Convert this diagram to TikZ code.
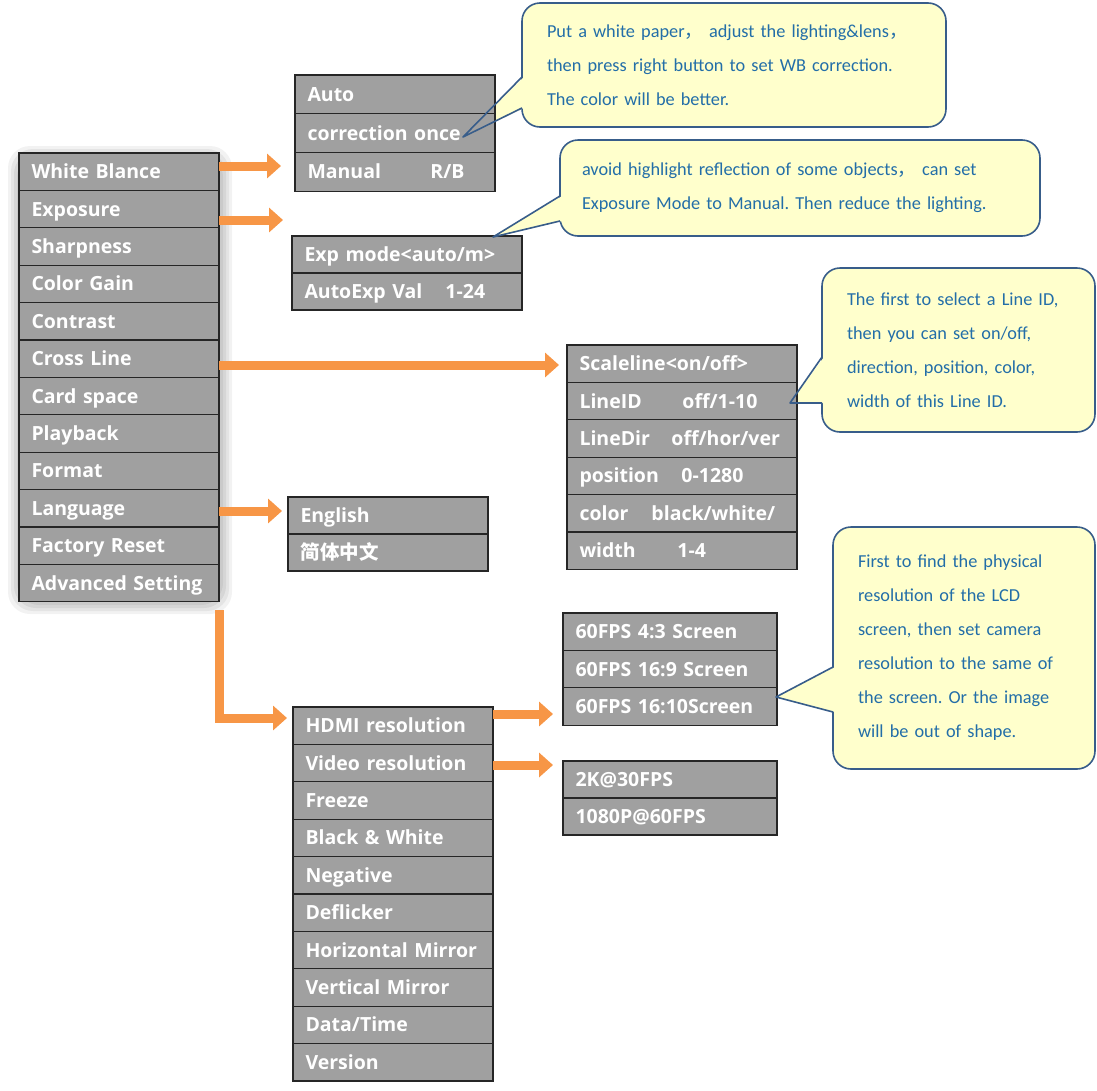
\documentclass[tikz,border=0pt]{standalone}
\usepackage{fontspec}
\setmainfont{Open Sans}
\newfontfamily\menufont{Open Sans}
\newfontfamily\notefont{Carlito}
\newfontfamily\cjk{Noto Sans CJK SC}
\usetikzlibrary{arrows.meta,positioning}
\definecolor{menugray}{RGB}{160,160,160}
\definecolor{arroworange}{RGB}{247,150,70}
\definecolor{notefill}{RGB}{255,255,204}
\definecolor{noteline}{RGB}{56,93,138}
\definecolor{notetext}{RGB}{35,110,168}
\frenchspacing
\begin{document}
\begin{tikzpicture}
[
x=1pt, y=-1pt,
menubox/.style 2 args={draw=black!85, line width=1.2pt, fill=menugray, text=white,
  font=\menufont\bfseries\fontsize{19.5}{22}\selectfont, anchor=north west,
  inner xsep=12.5pt, inner ysep=0pt, outer sep=0pt, align=left,
  text height=16pt, text depth=2pt,
  text width=#1, minimum height=#2},
note/.style={draw=noteline, line width=1.6pt, fill=notefill, rounded corners=18pt,
  text=notetext, font=\notefont\fontsize{18.3}{34}\selectfont, align=left,
  anchor=north west, inner sep=0pt, outer sep=0pt},
pointer/.style={draw=noteline, line width=1.6pt, line join=round},
flow/.style={draw=arroworange, line width=9pt, line join=miter,
  -{Triangle[length=14pt,width=24pt]}},
]
\useasboundingbox (0,0) rectangle (1097,1090);

%Soft frame behind the main menu
\foreach \d/\o in {0/0.10,3/0.12,6/0.14,9/0.14}
  \fill[gray, opacity=\o, rounded corners=22pt] (8+\d,146+\d) rectangle (232-\d,614-\d);

%Place the notes
\node[note, minimum width=424pt, minimum height=124pt, text width=374pt] (wbnote) at (522,3)
  {Put a white paper{\cjk ，}\ adjust the lighting\&lens{\cjk ，}\\
   then press right button to set WB correction.\\
   The color will be better.};
\node[note, minimum width=480pt, minimum height=96pt, text width=436pt] (expnote) at (560,140)
  {avoid highlight reflection of some objects{\cjk ，}\ can set\\
   Exposure Mode to Manual. Then reduce the lighting.};
\node[note, minimum width=273pt, minimum height=164pt, text width=223pt] (linenote) at (822,268)
  {The first to select a Line ID,\\ then you can set on/off,\\
   direction, position, color,\\ width of this Line ID.};
\node[note, minimum width=262pt, minimum height=242pt, text width=212pt] (resnote) at (833,527)
  {First to find the physical\\ resolution of the LCD\\ screen, then set camera\\
   resolution to the same of\\ the screen. Or the image\\ will be out of shape.};

\coordinate (wbtip) at (463,137);
\coordinate (exptip) at (493,237);
\coordinate (linetip) at (790,403);
\coordinate (restip) at (776,697);
\fill[notefill] ([xshift=2pt,yshift=-74pt]wbnote.north west) -- (wbtip) -- ([xshift=2pt,yshift=-105pt]wbnote.north west) -- cycle;
\fill[notefill] ([xshift=2pt,yshift=-56pt]expnote.north west) -- (exptip) -- ([xshift=2pt,yshift=-81pt]expnote.north west) -- cycle;
\fill[notefill] ([xshift=2pt,yshift=-89pt]linenote.north west) -- (linetip) -- ([xshift=2pt,yshift=-135pt]linenote.north west) -- cycle;
\fill[notefill] ([xshift=2pt,yshift=-140pt]resnote.north west) -- (restip) -- ([xshift=2pt,yshift=-185pt]resnote.north west) -- cycle;

%Place the menus
\foreach \lbl [count=\i] in {White Blance,Exposure,Sharpness,Color Gain,Contrast,Cross Line,
  Card space,Playback,Format,Language,Factory Reset,Advanced Setting}
  \node[menubox={175pt}{37.4pt}] (main\i) at (19,{153+(\i-1)*37.4}) {\lbl};
\foreach \lbl [count=\i] in {Auto,correction once,\makebox[123pt][l]{Manual}R/B}
  \node[menubox={175pt}{38.7pt}] (wb\i) at (295,{75+(\i-1)*38.7}) {\lbl};
\foreach \lbl [count=\i] in {Exp mode<auto/m>,\makebox[141pt][l]{AutoExp Val}1-24}
  \node[menubox={205pt}{37pt}] (exp\i) at (292,{236+(\i-1)*37}) {\lbl};
\foreach \lbl [count=\i] in {Scaleline<on/off>,\makebox[103pt][l]{LineID}off/1-10,
  \makebox[92pt][l]{LineDir}off/hor/ver,\makebox[102pt][l]{position}0-1280,
  \makebox[72pt][l]{color}black/white/,\makebox[98pt][l]{width}1-4}
  \node[menubox={205pt}{37.4pt}] (cross\i) at (567,{345+(\i-1)*37.4}) {\lbl};
\foreach \lbl [count=\i] in {English,{\cjk 简体中文}}
  \node[menubox={175pt}{37pt}] (lang\i) at (288,{497+(\i-1)*37}) {\lbl};
\foreach \lbl [count=\i] in {60FPS 4:3 Screen,60FPS 16:9 Screen,60FPS 16:10Screen}
  \node[menubox={189pt}{37.4pt}] (hdmi\i) at (563,{613+(\i-1)*37.4}) {\lbl};
\foreach \lbl [count=\i] in {2K@30FPS,1080P@60FPS}
  \node[menubox={189pt}{37pt}] (video\i) at (563,{761+(\i-1)*37}) {\lbl};
\foreach \lbl [count=\i] in {HDMI resolution,Video resolution,Freeze,Black \& White,Negative,
  Deflicker,Horizontal Mirror,Vertical Mirror,Data/Time,Version}
  \node[menubox={175pt}{37.4pt}] (adv\i) at (293,{707+(\i-1)*37.4}) {\lbl};

%Note pointers
\draw[pointer] ([yshift=-74pt]wbnote.north west) -- (wbtip) -- ([yshift=-105pt]wbnote.north west);
\draw[pointer] ([yshift=-56pt]expnote.north west) -- (exptip) -- ([yshift=-81pt]expnote.north west);
\draw[pointer] ([yshift=-89pt]linenote.north west) -- (linetip) -- ([yshift=-135pt]linenote.north west);
\draw[pointer] ([yshift=-140pt]resnote.north west) -- (restip) -- ([yshift=-185pt]resnote.north west);

%Draw the connections
\coordinate (wbin) at (281,166);
\coordinate (expin) at (283,220);
\coordinate (crossin) at (559,365);
\coordinate (langin) at (282,511);
\coordinate (advin) at (287,718);
\coordinate (hdmiin) at (553,714);
\coordinate (videoin) at (553,765);
\draw[flow] (main1.east |- wbin) -- (wbin);
\draw[flow] (main2.east |- expin) -- (expin);
\draw[flow] (main6.east |- crossin) -- (crossin);
\draw[flow] (main10.east |- langin) -- (langin);
\draw[flow] ([yshift=-8pt]main12.south east) -- (main12.south east |- advin) -- (advin);
\draw[flow] (adv1.east |- hdmiin) -- (hdmiin);
\draw[flow] (adv2.east |- videoin) -- (videoin);
\end{tikzpicture}
\end{document}
